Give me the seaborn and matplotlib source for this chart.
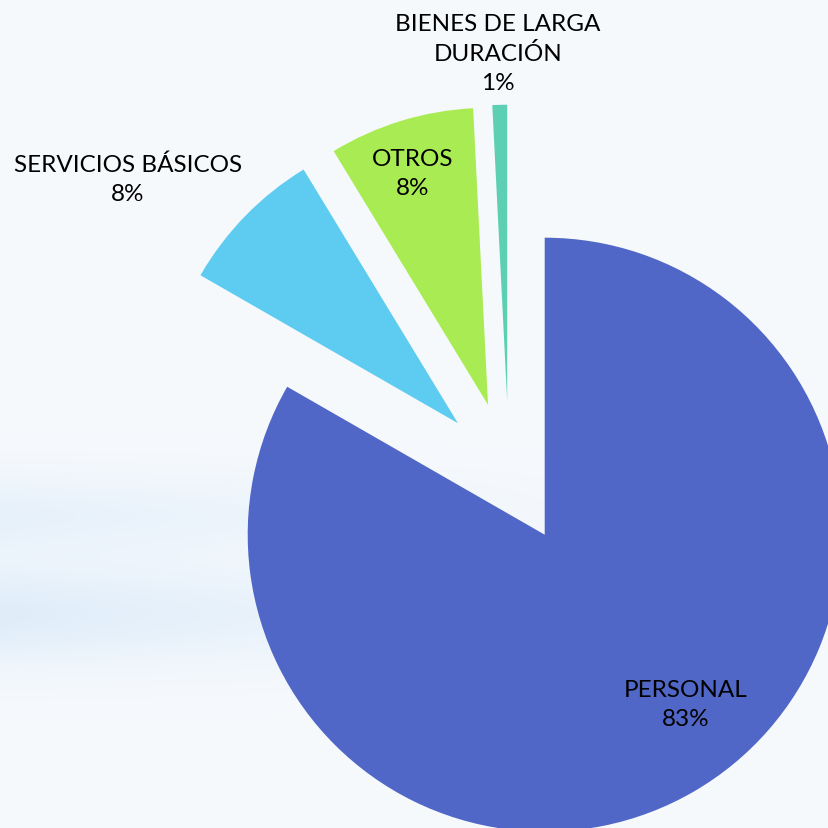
import numpy as np
import matplotlib.pyplot as plt
import seaborn as sns

categories = ["PERSONAL", "SERVICIOS BÁSICOS", "OTROS", "BIENES DE LARGA\nDURACIÓN"]
shares = [83.3, 8.0, 7.9, 0.8]
pct_labels = ["83%", "8%", "8%", "1%"]
colors = ["#5067C7", "#5ECBF1", "#A9EB53", "#5DCFB3"]

sns.set_theme(style="white")
plt.rcParams["font.family"] = ["Lato", "DejaVu Sans"]

fig = plt.figure(figsize=(8.29, 8.29), dpi=100)
ax = fig.add_axes([0, 0, 1, 1])

# pixel-based limits: pie centre at (509, 474) px, radius 297 px
W, cx, cy, r = 829, 509, 474, 297
x0, x1 = -cx / r, (W - cx) / r
y0, y1 = -(W - cy) / r, cy / r

# soft blue background
yy, xx = np.mgrid[0:W, 0:W]
band = 0.6 * np.exp(-((yy - 615) / 50.0) ** 2) + 0.4 * np.exp(-((yy - 515) / 40.0) ** 2)
band *= np.clip(1 - xx / 650.0, 0, 1)
base = np.array([0.965, 0.977, 0.992])
blue = np.array([0.82, 0.90, 0.97])
img = base + band[..., None] * (blue - base)
ax.imshow(np.clip(img, 0, 1), extent=(x0, x1, y0, y1), zorder=0, aspect="auto")

ax.pie(shares, colors=colors, explode=[0.24] * 4, startangle=90,
       counterclock=False, radius=1, center=(0, 0),
       wedgeprops=dict(linewidth=0, zorder=2))

# label centres, given in image pixels
label_px = [(686, 705), (128, 180), (413, 174), (498, 54)]
for name, pct, (px, py) in zip(categories, pct_labels, label_px):
    ax.text((px - cx) / r, (cy - py) / r, f"{name}\n{pct}", ha="center",
            va="center", fontsize=17.5, color="black", linespacing=1.45, zorder=5)

ax.set_xlim(x0, x1)
ax.set_ylim(y0, y1)
ax.set_aspect("equal")
ax.axis("off")

fig.savefig("out.png", dpi=100)
